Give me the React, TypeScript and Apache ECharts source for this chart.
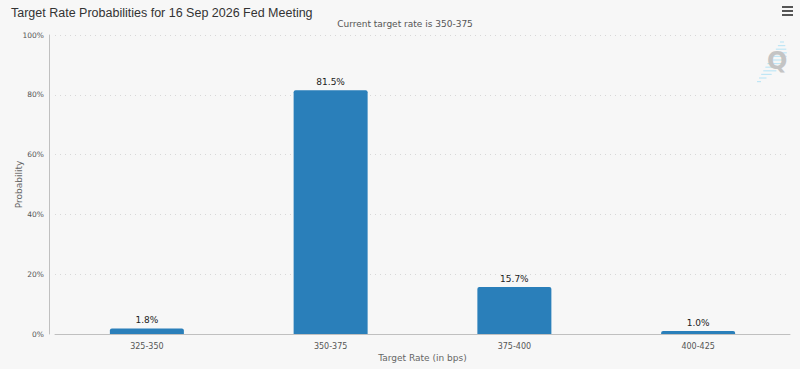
import React, { useEffect, useRef } from "react";
import * as echarts from "echarts";

const categories = ["325-350", "350-375", "375-400", "400-425"];
const probabilities = [1.8, 81.5, 15.7, 1.0];
const yTicks = [0, 20, 40, 60, 80, 100];
const titleText = "Target Rate Probabilities for 16 Sep 2026 Fed Meeting";
const subtitleText = "Current target rate is 350-375";

export default function App() {
  const ref = useRef<HTMLDivElement>(null);
  useEffect(() => {
    document.body.style.margin = "0";
    const chart = echarts.init(ref.current!, undefined, { renderer: "svg" });
    const lbl = "DejaVu Sans, sans-serif";
    const streak = [0, 1, 2, 3, 4, 5, 6, 7, 8, 9, 10, 11].map((i) => {
      const t = i / 11;
      const left = 780 - t * 23;
      const len = 4 + 12 * Math.sin(Math.PI * t);
      return {
        type: "line",
        z: 1,
        shape: { x1: left, y1: 42 + i * 3.6, x2: left + len, y2: 42 + i * 3.6 },
        style: { stroke: "#bfe6f5", lineWidth: 1.2 },
      };
    });
    chart.setOption({
      animation: false,
      backgroundColor: "#f7f7f7",
      title: [
        {
          text: titleText,
          left: 6,
          top: 1,
          textStyle: { fontFamily: "Liberation Sans, Arial", fontSize: 12.5, fontWeight: "normal", color: "#333" },
        },
        {
          text: subtitleText,
          left: 400,
          top: 14,
          textAlign: "center",
          textStyle: { fontFamily: lbl, fontSize: 9, fontWeight: "normal", color: "#555" },
        },
      ],
      grid: { left: 55, right: 10, top: 35, bottom: 35, containLabel: false, outerBoundsMode: "none" },
      xAxis: {
        type: "category",
        data: categories,
        name: "Target Rate (in bps)",
        nameLocation: "middle",
        nameGap: 19,
        nameMoveOverlap: false,
        nameTextStyle: { fontFamily: lbl, fontSize: 9, color: "#666" },
        axisLine: { lineStyle: { color: "#c0c0c0" } },
        axisTick: { alignWithLabel: true, length: 5, lineStyle: { color: "#c0c0c0" } },
        axisLabel: { fontFamily: lbl, fontSize: 8, color: "#555", margin: 8 },
      },
      yAxis: {
        type: "value",
        min: 0,
        max: 100,
        interval: 20,
        offset: 6,
        name: "Probability",
        nameLocation: "middle",
        nameGap: 26,
        nameMoveOverlap: false,
        nameTextStyle: { fontFamily: lbl, fontSize: 9, color: "#666" },
        axisLine: { show: true, lineStyle: { color: "#c0c0c0" } },
        axisTick: { show: false },
        axisLabel: {
          fontFamily: lbl,
          fontSize: 7.5,
          color: "#555",
          margin: 5,
          formatter: (v: number) => (yTicks.includes(v) ? v + "%" : ""),
        },
        splitLine: { lineStyle: { color: "#d8d8d8", type: [1, 4] } },
      },
      series: [
        {
          type: "bar",
          data: probabilities,
          barWidth: 74,
          itemStyle: { color: "#2a7fba", borderRadius: [2, 2, 0, 0] },
          label: {
            show: true,
            position: "top",
            distance: 4,
            formatter: (p: any) => p.value.toFixed(1) + "%",
            fontFamily: lbl,
            fontSize: 9,
            color: "#222",
          },
        },
      ],
      graphic: [
        { type: "rect", left: 782, top: 6, shape: { width: 11, height: 2 }, style: { fill: "#555" } },
        { type: "rect", left: 782, top: 10, shape: { width: 11, height: 2 }, style: { fill: "#555" } },
        { type: "rect", left: 782, top: 14, shape: { width: 11, height: 2 }, style: { fill: "#555" } },
        ...streak,
        {
          type: "text",
          z: 10,
          left: 767,
          top: 49,
          style: { text: "Q", fontFamily: "DejaVu Sans", fontWeight: "bold", fontSize: 24, fill: "#c4c4c4" },
        },
      ],
    });
    return () => chart.dispose();
  }, []);
  return <div ref={ref} style={{ width: 800, height: 369 }} />;
}
